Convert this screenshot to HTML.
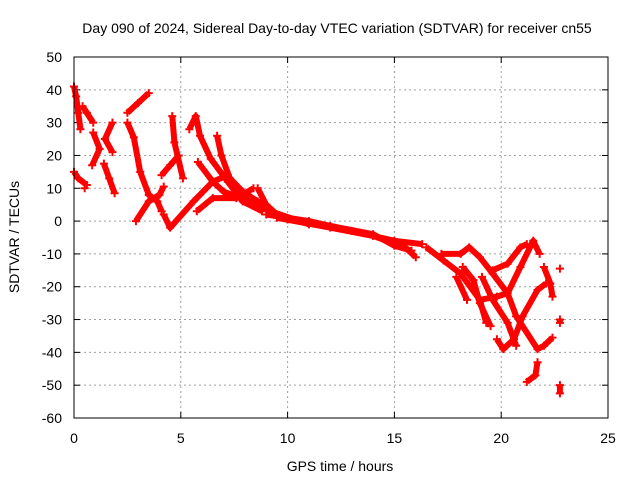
<!DOCTYPE html>
<html><head><meta charset="utf-8"><style>
body{margin:0;background:#fff}
svg{display:block;font-family:"Liberation Sans",sans-serif}
</style></head><body>
<svg id="chart" width="640" height="480" viewBox="0 0 640 480">
<text x="337" y="33" font-size="14" text-anchor="middle">Day 090 of 2024, Sidereal Day-to-day VTEC variation (SDTVAR) for receiver cn55</text>
<text x="340" y="471" font-size="14" text-anchor="middle">GPS time / hours</text>
<text transform="translate(19,237) rotate(-90)" font-size="14" text-anchor="middle">SDTVAR / TECUs</text>
<g id="grid"></g>
<g id="ticks"></g>
<g id="series"></g>
<rect x="74" y="57" width="534" height="361" fill="none" stroke="#000" stroke-width="1"/>
</svg>
<script>
const xTicks=[0,5,10,15,20,25];
const yTicks=[50,40,30,20,10,0,-10,-20,-30,-40,-50,-60];
const track1=[[0,41],[0.1,38],[0.2,33],[0.3,28]];
const track2=[[0.4,35],[0.6,33],[0.9,30]];
const track3=[[0,15],[0.2,13],[0.6,11]];
const track4=[[0.9,27],[1.2,22],[0.85,17]];
const track5=[[1.4,17.5],[1.65,13],[1.9,8.5]];
const track6=[[1.8,30],[1.45,25],[1.8,21]];
const track7=[[2.5,30],[2.8,25.5],[3.1,15],[3.5,8],[3.9,6],[4.1,3]];
const track8=[[2.9,0],[3.5,6],[4.0,8],[4.2,10.5]];
const track9=[[2.5,33],[3.0,36],[3.5,39]];
const track10=[[4.6,32],[4.7,24],[5.1,13]];
const track11=[[4.1,14],[4.5,17],[4.9,20]];
const track12=[[4.2,2],[4.5,-2],[5.6,6],[6.5,12],[7.2,14]];
const track13=[[5.4,28],[5.7,32],[5.9,26],[6.4,19],[7.2,12],[7.9,6],[8.8,3]];
const track14=[[5.8,18],[6.5,12],[7.0,9],[8.2,6],[9.2,3],[11,-1]];
const track15=[[5.75,3],[6.5,7],[7.6,7],[8.4,10]];
const track16=[[6.7,26],[6.9,20],[7.3,13],[7.9,9],[8.6,6],[9.3,3]];
const track17=[[8.6,10],[9.0,5],[9.5,2]];
const track18=[[9,2],[11,0],[13,-3],[15,-6],[16.3,-7]];
const track19=[[9.5,1],[12,-2],[14,-4.5],[15.5,-8],[16,-11]];
const track34=[[10,0.5],[12,-1.5],[14,-4],[15,-7.5],[15.8,-9]];
const track20=[[16.5,-8],[17.3,-12],[18.1,-16],[19,-24],[19.3,-31]];
const track21=[[17.2,-10],[18.1,-10],[18.5,-8],[19,-11],[19.6,-16],[20.3,-22],[20.7,-29],[21.7,-39],[22,-38],[22.4,-35.5]];
const track22=[[17.9,-17],[18.4,-24]];
const track23=[[18.2,-14],[18.7,-18],[19,-25],[19.5,-32]];
const track24=[[19.1,-17],[19.6,-24],[20.3,-31],[20.7,-38]];
const track25=[[19.8,-36],[20.1,-39],[20.6,-36],[21,-29],[21.7,-21],[22.1,-19]];
const track26=[[19,-24],[19.8,-23],[20.3,-22],[20.9,-14],[21.5,-6],[21.8,-10]];
const track27=[[19.6,-15],[20.3,-13],[20.9,-8],[21.2,-7]];
const track28=[[22,-14],[22.3,-19],[22.4,-23]];
const track29=[[21.2,-49],[21.6,-47],[21.7,-43]];
const track30=[[22.75,-14.5]];
const track31=[[22.75,-30],[22.75,-31]];
const track32=[[22.75,-50],[22.75,-52.5]];
const track33=[[0.5,10]];
const tracks=[track1,track2,track3,track4,track5,track6,track7,track8,track9,track10,track11,track12,track13,track14,track15,track16,track17,track18,track19,track34,track20,track21,track22,track23,track24,track25,track26,track27,track28,track29,track30,track31,track32,track33];

const NS='http://www.w3.org/2000/svg';
const X0=74,X1=608,Y0=418,Y1=57;
function xs(t){return X0+(t-0)/(25-0)*(X1-X0);}
function ys(v){return Y0-(v-(-60))/(50-(-60))*(Y0-Y1);}
function mk(tag,attrs,parent){const e=document.createElementNS(NS,tag);for(const k in attrs)e.setAttribute(k,attrs[k]);parent.appendChild(e);return e;}
const grid=document.getElementById('grid'),ticks=document.getElementById('ticks'),series=document.getElementById('series');
xTicks.forEach(t=>{
  const x=xs(t);
  if(t>0&&t<25){const g=mk('line',{x1:x,x2:x,y1:Y0,y2:Y1,stroke:'#a0a0a0','stroke-dasharray':'2,3'},grid);
  
  }
  mk('line',{x1:x,x2:x,y1:Y0,y2:Y0-6,stroke:'#000'},ticks);
  mk('line',{x1:x,x2:x,y1:Y1,y2:Y1+6,stroke:'#000'},ticks);
  const l=mk('text',{x:x,y:443,'font-size':14,'text-anchor':'middle'},ticks);
  l.textContent=t;
  
  
});
yTicks.forEach(v=>{
  const y=ys(v);
  if(v<50&&v>-60){const g=mk('line',{x1:X0,x2:X1,y1:y,y2:y,stroke:'#a0a0a0','stroke-dasharray':'2,3'},grid);
  
  }
  mk('line',{x1:X0,x2:X0+6,y1:y,y2:y,stroke:'#000'},ticks);
  mk('line',{x1:X1,x2:X1-6,y1:y,y2:y,stroke:'#000'},ticks);
  const l=mk('text',{x:62,y:y+5,'font-size':14,'text-anchor':'end'},ticks);
  l.textContent=v;
  
  
});
tracks.forEach(tr=>{
  const pts=tr.map(p=>xs(p[0]).toFixed(1)+','+ys(p[1]).toFixed(1)).join(' ');
  if(tr.length>1){const pl=mk('polyline',{points:pts,fill:'none',stroke:'#ff0000','stroke-width':6,'stroke-linejoin':'round','stroke-linecap':'butt'},series);
  
  }
  tr.forEach(p=>{
    const x=xs(p[0]),y=ys(p[1]);
    const m=mk('path',{d:`M${x-4},${y}H${x+4}M${x},${y-4}V${y+4}`,stroke:'#ff0000','stroke-width':2},series);
    
    
  });
});
</script>
</body></html>
